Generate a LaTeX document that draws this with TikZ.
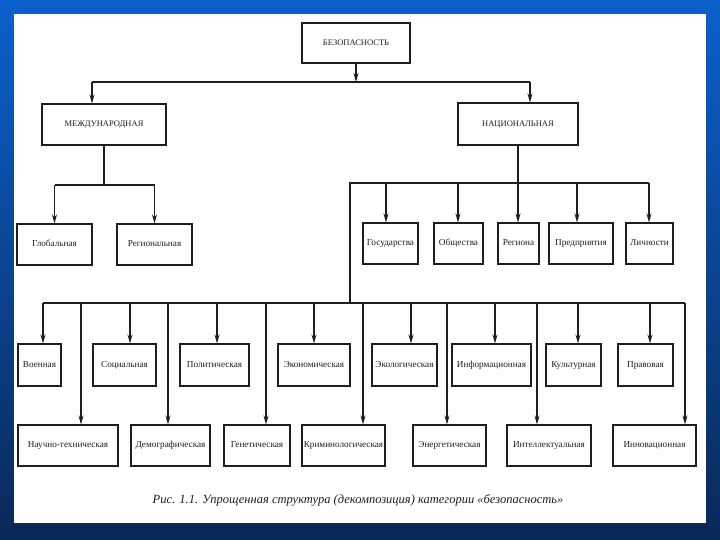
\documentclass[tikz,border=0pt]{standalone}
\usepackage{fontspec}
\setmainfont{Liberation Serif}
\usetikzlibrary{arrows.meta,positioning}

\definecolor{slidetop}{RGB}{12,96,204}
\definecolor{slidebot}{RGB}{10,40,88}
\definecolor{ink}{RGB}{30,30,30}

\begin{document}
\begin{tikzpicture}[x=1pt, y=-1pt,
  every node/.style={anchor=center, font=\fontsize{9.2}{10}\selectfont, text=ink},
  box/.style={draw=ink, line width=1.1pt, fill=white, inner sep=1pt,
    text height=6.5pt, text depth=2pt},
  link/.style={draw=ink, line width=1.2pt},
  arr/.style={link, -{Stealth[length=9pt, width=5pt]}},
]
% slide and page
\shade[top color=slidetop, bottom color=slidebot] (0,0) rectangle (720,540);
\fill[white] (14,14) rectangle (706,523);

\node[box, minimum width=108pt, minimum height=40pt, font=\fontsize{8.5}{10}\selectfont] (bez) at (356,43) {БЕЗОПАСНОСТЬ};
\node[box, minimum width=124pt, minimum height=41pt, font=\fontsize{8.5}{10}\selectfont] (mezh) at (104,124.5) {МЕЖДУНАРОДНАЯ};
\node[box, minimum width=120pt, minimum height=42pt, font=\fontsize{8.5}{10}\selectfont] (nac) at (518,124) {НАЦИОНАЛЬНАЯ};

% top level
\coordinate (tL) at (92,82);
\coordinate (tR) at (530,82);
\draw[arr] (bez.south) -- (bez.south |- tL);
\draw[link] (tL) -- (tR);
\draw[arr] (tL) -- (tL |- mezh.north);
\draw[arr] (tR) -- (tR |- nac.north);

% international
\foreach \n/\cx/\w/\t in {glob/54.5/75/Глобальная, reg/154.5/75/Региональная}
  \node[box, minimum width=\w pt, minimum height=41pt] (\n) at (\cx,244.5) {\t};
\coordinate (mbus) at (0,185);
\draw[link] (mezh.south) -- (mezh.south |- mbus);
\draw[link] (glob.north |- mbus) -- (reg.north |- mbus);
\foreach \n in {glob,reg}
  \draw[arr] (\n.north |- mbus) -- (\n.north);

% national
\foreach \n/\cx/\w/\ax/\t in {
  gos/390.5/55/386/Государства,
  obsh/458.5/49/458/Общества,
  regn/518.5/41/518/Региона,
  pred/581/64/577/Предприятия,
  lich/649.5/47/649/Личности}
{
  \node[box, minimum width=\w pt, minimum height=41pt] (\n) at (\cx,243.5) {\t};
  \coordinate (a-\n) at (\ax,183);
  \draw[arr] (a-\n) -- (a-\n |- \n.north);
}
\coordinate (nL) at (350,183);
\coordinate (lC) at (350,303);
\coordinate (lL) at (43,303);
\coordinate (lR) at (685,303);
\draw[link] (nac.south) -- (nac.south |- nL);
\draw[link] (a-lich) -- (nL) -- (lC);
\draw[link] (lL) -- (lR);

% kinds of security, upper row
\foreach \n/\cx/\w/\ax/\t in {
  voen/39.5/43/43/Военная,
  soc/124.5/63/130/Социальная,
  pol/214.5/69/217/Политическая,
  ekon/314/72/314/Экономическая,
  ekol/404.5/65/411/Экологическая,
  inf/491.5/79/495/Информационная,
  kult/573.5/55/578/Культурная,
  prav/645.5/55/650/Правовая}
{
  \node[box, minimum width=\w pt, minimum height=42pt] (\n) at (\cx,365) {\t};
  \coordinate (a-\n) at (\ax,303);
  \draw[arr] (a-\n) -- (a-\n |- \n.north);
}

% kinds of security, lower row
\foreach \n/\cx/\w/\ax/\t in {
  nauch/68/100/81/Научно-техническая,
  dem/170.5/79/168/Демографическая,
  gen/257/66/266/Генетическая,
  krim/343.5/83/363/Криминологическая,
  energ/449.5/73/447/Энергетическая,
  intel/549/84/537/Интеллектуальная,
  innov/654.5/83/685/Инновационная}
{
  \node[box, minimum width=\w pt, minimum height=41pt] (\n) at (\cx,445.5) {\t};
  \coordinate (a-\n) at (\ax,303);
  \draw[arr] (a-\n) -- (a-\n |- \n.north);
}

\node[font=\itshape\fontsize{12.5}{14}\selectfont] (cap) at (358,500)
  {Рис. 1.1. Упрощенная структура (декомпозиция) категории «безопасность»};
\end{tikzpicture}
\end{document}
